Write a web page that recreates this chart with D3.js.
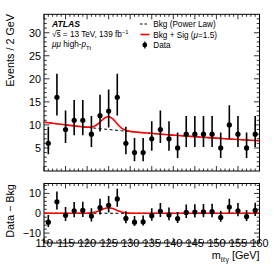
<!DOCTYPE html>
<html><head><meta charset="utf-8">
<script src="https://cdn.jsdelivr.net/npm/d3@7"></script>
<style>
html,body{margin:0;padding:0;background:#fff;}
svg{display:block;font-family:"Liberation Sans",Arial,sans-serif;}
</style></head>
<body>
<script>
// ---- data ----
const binCenters = [111,113,115,117,119,121,123,125,127,129,131,133,135,137,139,141,143,145,147,149,151,153,155,157,159];
const dataCounts = [6,16,9,11,11,8,12,13,16,6,4,4,7,9,7,5,8,8,8,8,5,10,8,5,8];
const errLow  = [2.38,3.97,2.94,3.27,3.27,2.77,3.41,3.56,3.97,2.38,1.91,1.91,2.58,2.94,2.58,2.16,2.77,2.77,2.77,2.77,2.16,3.11,2.77,2.16,2.77];
const errHigh = [3.58,5.11,4.11,4.42,4.42,3.95,4.56,4.70,5.11,3.58,3.16,3.16,3.77,4.11,3.77,3.38,3.95,3.95,3.95,3.95,3.38,4.27,3.95,3.38,3.95];
const residuals = [-4.5,5.8,-1.0,1.2,1.4,-1.4,2.8,4.0,7.2,-2.6,-4.5,-4.3,-1.2,1.0,-0.9,-2.7,0.4,0.6,0.7,0.8,-2.1,3.1,1.2,-1.7,1.4];
const bkgMass = [110,112,114,116,118,120,122,124,126,128,130,132,134,136,138,140,142,144,146,148,150,152,154,156,158,160];
const bkgVals = [10.60,10.36,10.13,9.90,9.69,9.48,9.28,9.09,8.91,8.73,8.56,8.39,8.23,8.08,7.93,7.78,7.64,7.51,7.38,7.25,7.13,7.01,6.89,6.78,6.67,6.56];
const sigMass = [110,118,119,120,121,122,123,124,125,126,127,128,129,130,131,132,160];
const sigVals = [0,0,0,0.04,0.18,0.59,1.41,2.36,2.80,2.36,1.41,0.59,0.18,0.04,0,0,0];
const sbMass = [110,112,114,116,118,119,120,121,122,123,124,125,126,127,128,129,130,131,132,134,136,138,140,142,144,146,148,150,152,154,156,158,160];
const sbVals = [10.60,10.36,10.13,9.90,9.69,9.59,9.52,9.56,9.87,10.60,11.45,11.80,11.27,10.23,9.32,8.83,8.60,8.48,8.39,8.23,8.08,7.93,7.78,7.64,7.51,7.38,7.25,7.13,7.01,6.89,6.78,6.67,6.56];
const xTicks = [110,115,120,125,130,135,140,145,150,155,160];
const yTicksMain = [5,10,15,20,25,30];
const yTicksRatio = [-10,0,10];

const W=274,H=274;
const svg=d3.select("body").append("svg").attr("width",W).attr("height",H);

const L=44,R=259.5;
const mainTop=14.3, mainBot=171;
const ratTop=183.5, ratBot=243;

const x=d3.scaleLinear().domain([110,160]).range([L,R]);
const yM=d3.scaleLinear().domain([0,34]).range([mainBot,mainTop]);
const yR=d3.scaleLinear().domain([-15,15]).range([ratBot,ratTop]);

const FS=10.8;

function frame(top,bot,y,majorY,minorY){
  const g=svg.append("g");
  // x ticks bottom & top
  const minorX=d3.range(110,161,1);
  minorX.forEach(v=>{
    const maj=(v%5===0);
    const len=maj? (bot-top)*0.035+1.5 : (bot-top)*0.018+0.8;
    const lenM = maj?5:2.5;
    g.append("line").attr("x1",x(v)).attr("x2",x(v)).attr("y1",bot).attr("y2",bot-lenM).attr("stroke","#000").attr("stroke-width",0.8);
    g.append("line").attr("x1",x(v)).attr("x2",x(v)).attr("y1",top).attr("y2",top+lenM).attr("stroke","#000").attr("stroke-width",0.8);
  });
  minorY.forEach(v=>{
    const maj=majorY.includes(v);
    const len=maj?5.5:2.8;
    g.append("line").attr("x1",L).attr("x2",L+len).attr("y1",y(v)).attr("y2",y(v)).attr("stroke","#000").attr("stroke-width",0.8);
    g.append("line").attr("x1",R).attr("x2",R-len).attr("y1",y(v)).attr("y2",y(v)).attr("stroke","#000").attr("stroke-width",0.8);
  });
  g.append("rect").attr("x",L).attr("y",top).attr("width",R-L).attr("height",bot-top)
    .attr("fill","none").attr("stroke","#000").attr("stroke-width",1);
  majorY.forEach(v=>{
    g.append("text").attr("x",L-3).attr("y",y(v)).attr("dy","0.36em").attr("text-anchor","end")
      .attr("font-size",FS).text(v<0?"\u2212"+Math.abs(v):v);
  });
}

frame(mainTop,mainBot,yM,yTicksMain,d3.range(1,34,1));
frame(ratTop,ratBot,yR,yTicksRatio,d3.range(-14,15,2));

// x tick labels
xTicks.forEach(v=>{
  svg.append("text").attr("x",x(v)).attr("y",247).attr("text-anchor","middle").attr("font-size",FS).text(v);
});

// axis titles
svg.append("text").attr("transform","translate(14,14) rotate(-90)").attr("text-anchor","end")
  .attr("font-size",FS).text("Events / 2 GeV");
svg.append("text").attr("transform","translate(14,211) rotate(-90)").attr("text-anchor","middle")
  .attr("font-size",FS).text("Data \u2212 Bkg");
const xl=svg.append("text").attr("x",R).attr("y",259).attr("text-anchor","end").attr("font-size",FS);
xl.append("tspan").text("m");
xl.append("tspan").attr("dy",2.5).attr("font-size",7).text("\u2113\u2113\u03b3");
xl.append("tspan").attr("dy",-2.5).text(" [GeV]");

// ---- main plot curves ----
const clipM=svg.append("clipPath").attr("id","cm").append("rect").attr("x",L).attr("y",mainTop).attr("width",R-L).attr("height",mainBot-mainTop);
const gM=svg.append("g").attr("clip-path","url(#cm)");
const lineB=d3.line().x((d,i)=>x(bkgMass[i])).y(d=>yM(d)).curve(d3.curveMonotoneX);
gM.append("path").attr("d",lineB(bkgVals)).attr("fill","none").attr("stroke","#000").attr("stroke-width",1).attr("stroke-dasharray","3,2.5");
const lineSB=d3.line().x((d,i)=>x(sbMass[i])).y(d=>yM(d)).curve(d3.curveMonotoneX);
gM.append("path").attr("d",lineSB(sbVals)).attr("fill","none").attr("stroke","#f00").attr("stroke-width",1.6);

// data points main
binCenters.forEach((m,i)=>{
  gM.append("line").attr("x1",x(m)).attr("x2",x(m)).attr("y1",yM(dataCounts[i]-errLow[i])).attr("y2",yM(dataCounts[i]+errHigh[i]))
    .attr("stroke","#000").attr("stroke-width",1.6);
  gM.append("circle").attr("cx",x(m)).attr("cy",yM(dataCounts[i])).attr("r",2.6).attr("fill","#000");
});

// ---- ratio plot ----
svg.append("clipPath").attr("id","cr").append("rect").attr("x",L).attr("y",ratTop).attr("width",R-L).attr("height",ratBot-ratTop);
const gR=svg.append("g").attr("clip-path","url(#cr)");
gR.append("line").attr("x1",x(110)).attr("x2",x(160)).attr("y1",yR(0)).attr("y2",yR(0))
  .attr("stroke","#000").attr("stroke-width",1).attr("stroke-dasharray","3,2.5");
const lineS=d3.line().x((d,i)=>x(sigMass[i])).y(d=>yR(d));
gR.append("path").attr("d",lineS(sigVals)).attr("fill","none").attr("stroke","#f00").attr("stroke-width",1.6);
binCenters.forEach((m,i)=>{
  gR.append("line").attr("x1",x(m)).attr("x2",x(m)).attr("y1",yR(residuals[i]-errLow[i])).attr("y2",yR(residuals[i]+errHigh[i]))
    .attr("stroke","#000").attr("stroke-width",1.6);
  gR.append("circle").attr("cx",x(m)).attr("cy",yR(residuals[i])).attr("r",2.6).attr("fill","#000");
});

// ---- labels ----
const FT=8.2;
svg.append("text").attr("x",52).attr("y",26.5).attr("font-size",8.6).attr("font-weight","bold").attr("font-style","italic").text("ATLAS");
const t2=svg.append("text").attr("x",52).attr("y",37).attr("font-size",FT);
t2.append("tspan").text("\u221a");
t2.append("tspan").attr("text-decoration","overline").text("s");
t2.append("tspan").text(" = 13 TeV, 139 fb");
t2.append("tspan").attr("dy",-3).attr("font-size",5.8).text("\u22121");
const t3=svg.append("text").attr("x",52).attr("y",47).attr("font-size",FT);
t3.append("tspan").attr("font-style","italic").text("\u03bc\u03bc");
t3.append("tspan").text(" high-");
t3.append("tspan").attr("font-style","italic").text("p");
t3.append("tspan").attr("dy",2.5).attr("font-size",5.8).text("Tt");

// legend
const lx=153.3;
svg.append("line").attr("x1",140).attr("x2",149).attr("y1",24).attr("y2",24).attr("stroke","#000").attr("stroke-width",1).attr("stroke-dasharray","2.5,2");
svg.append("text").attr("x",lx).attr("y",27).attr("font-size",FT).text("Bkg (Power Law)");
svg.append("line").attr("x1",140.5).attr("x2",149.5).attr("y1",34.5).attr("y2",34.5).attr("stroke","#f00").attr("stroke-width",1.6);
const lg2=svg.append("text").attr("x",lx).attr("y",37.5).attr("font-size",FT);
lg2.append("tspan").text("Bkg + Sig (");
lg2.append("tspan").attr("font-style","italic").text("\u03bc");
lg2.append("tspan").text("=1.5)");
svg.append("line").attr("x1",144.8).attr("x2",144.8).attr("y1",41.5).attr("y2",48.5).attr("stroke","#000").attr("stroke-width",1.2);
svg.append("circle").attr("cx",144.8).attr("cy",45).attr("r",2.4).attr("fill","#000");
svg.append("text").attr("x",lx).attr("y",48).attr("font-size",FT).text("Data");
</script>
</body></html>
